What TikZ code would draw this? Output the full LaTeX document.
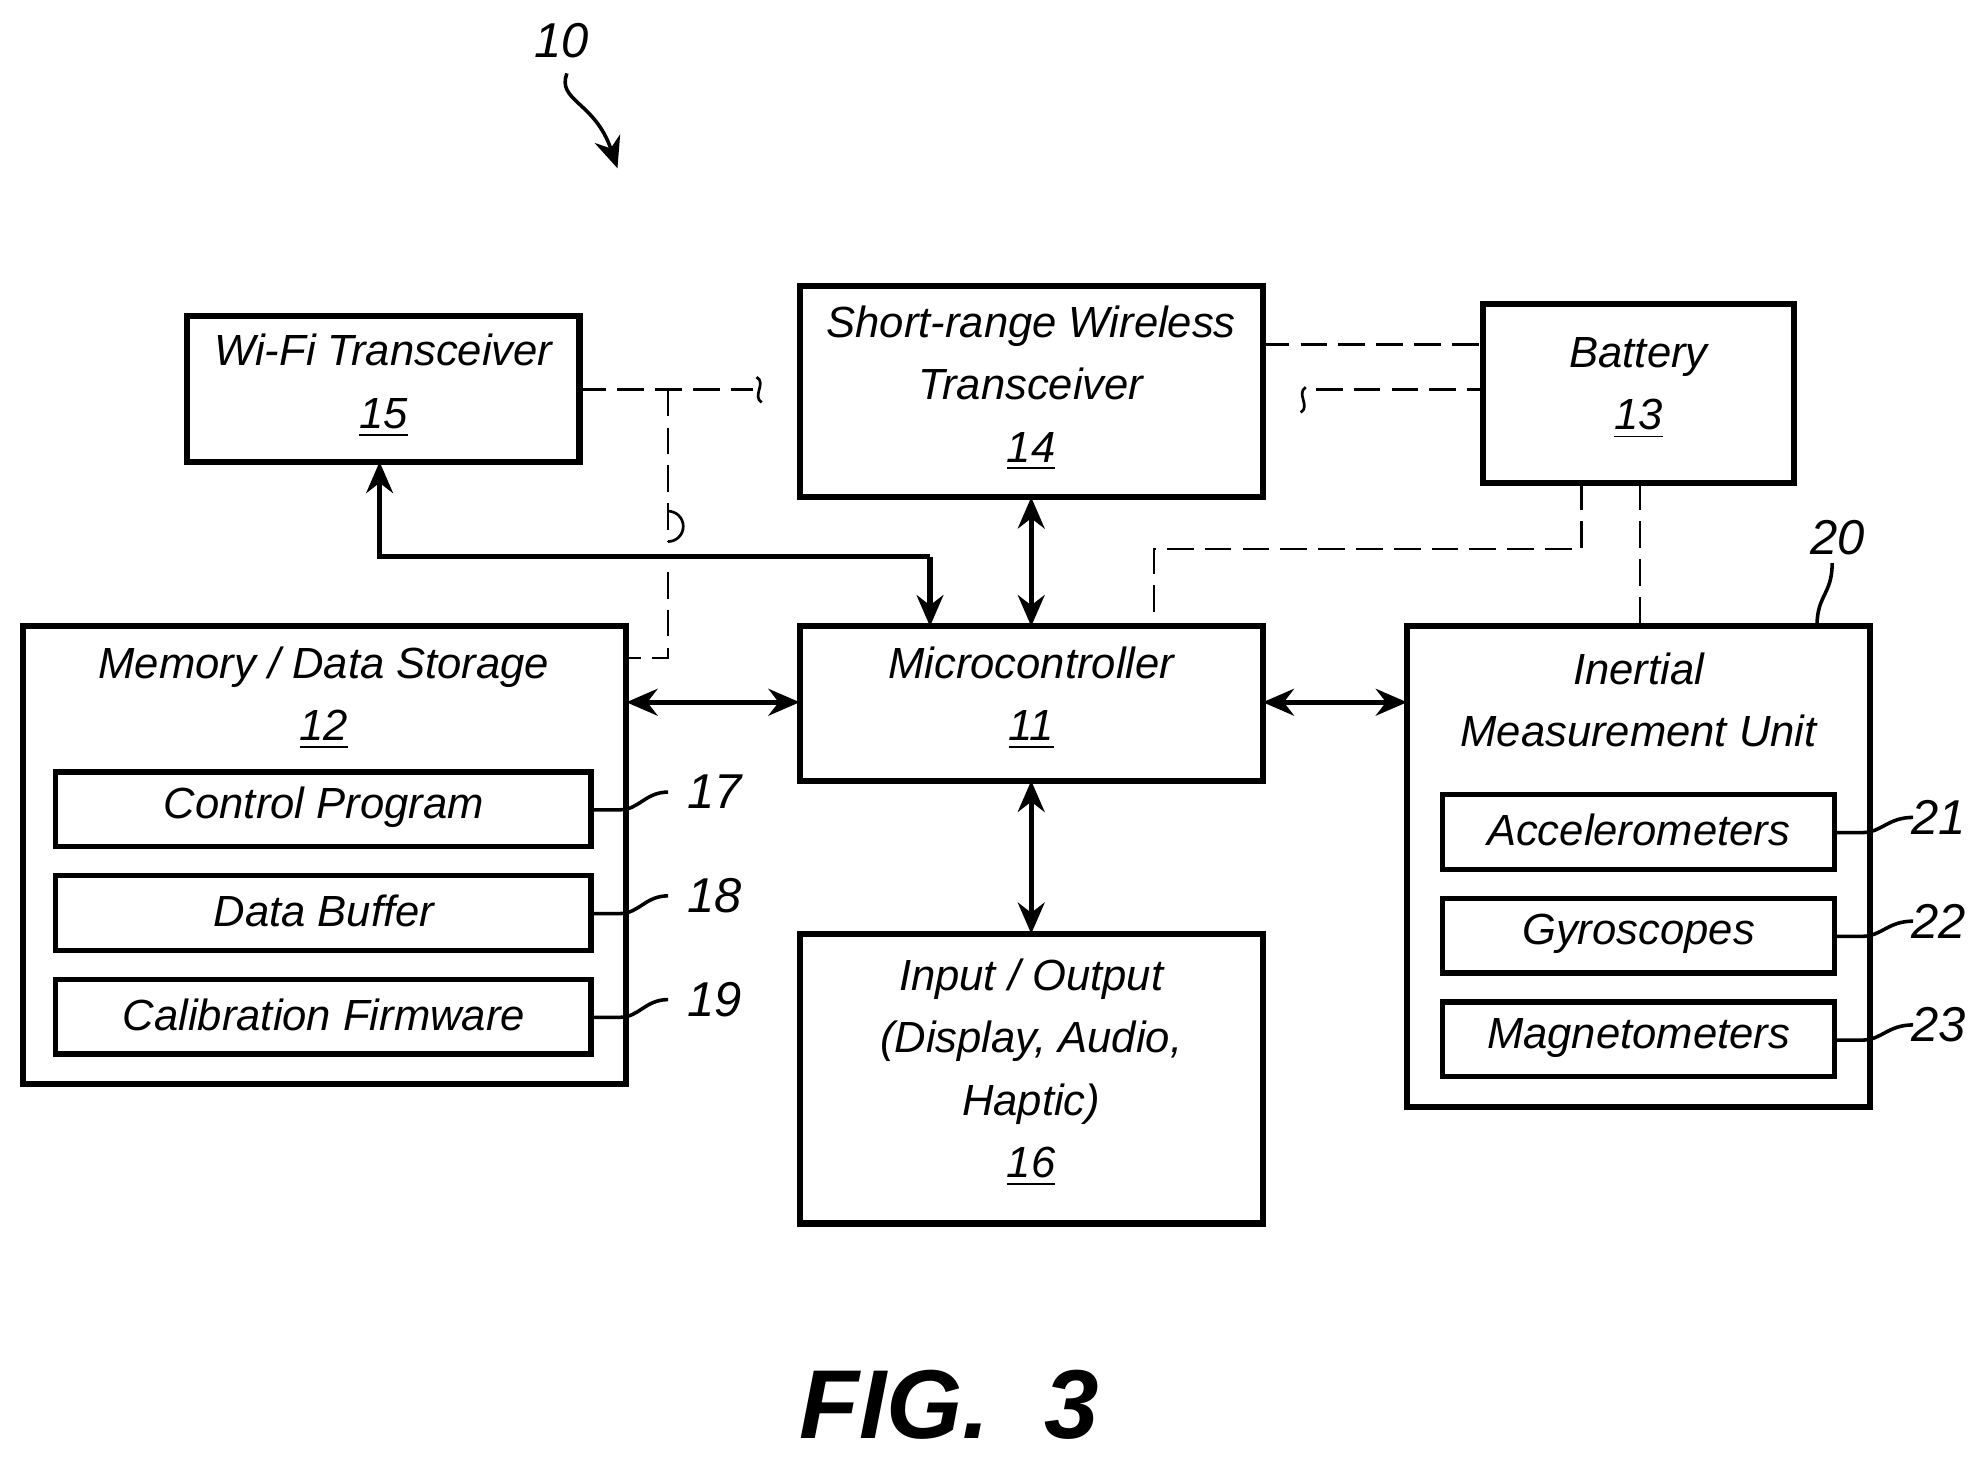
\documentclass[tikz,border=0pt]{standalone}
\usepackage{fontspec}
\setmainfont{Liberation Sans}
\usetikzlibrary{arrows.meta}
\begin{document}
\begin{tikzpicture}[x=0.01cm,y=-0.01cm,
  box/.style={draw,line width=1.4pt},
  sub/.style={draw,line width=1.2pt},
  txt/.style={font=\fontsize{9.8}{14}\selectfont\itshape,align=center,inner sep=0},
  lbl/.style={font=\fontsize{11}{13}\selectfont\itshape,inner sep=0},
  dl/.style={dash pattern=on 6pt off 2.5pt,line width=0.6pt},
  ar/.style={line width=1.2pt,{Stealth[length=7pt,width=6pt]}-{Stealth[length=7pt,width=6pt]}},
  sa/.style={line width=1.2pt,-{Stealth[length=7pt,width=6pt]}}]
\useasboundingbox (0,0) rectangle (1568,1157);
% boxes
\draw[box] (148,250) rectangle (458,365);
\node[txt] (wifi) at (303,305) {Wi-Fi Transceiver\\\underline{15}};
\draw[box] (632,226) rectangle (998,393);
\node[txt] (srw) at (815,307) {Short-range Wireless\\Transceiver\\\underline{14}};
\draw[box] (1172,240) rectangle (1418,382);
\node[txt] (bat) at (1295,307) {Battery\\\underline{13}};
\draw[box] (18,495) rectangle (495,857);
\node[txt] (mem) at (256,552) {Memory / Data Storage\\\underline{12}};
\draw[sub] (44,610) rectangle (467,669); \node[txt] (cp) at (256,638) {Control Program};
\draw[sub] (44,692) rectangle (467,751); \node[txt] (db) at (256,720) {Data Buffer};
\draw[sub] (44,774) rectangle (467,833); \node[txt] (cf) at (256,802) {Calibration Firmware};
\draw[box] (632,495) rectangle (998,617);
\node[txt] (mc) at (815,552) {Microcontroller\\\underline{11}};
\draw[box] (632,738) rectangle (998,967);
\node[txt] (io) at (815,848) {Input / Output\\(Display, Audio,\\Haptic)\\\underline{16}};
\draw[box] (1112,495) rectangle (1478,875);
\node[txt] (imu) at (1295,553) {Inertial\\Measurement Unit};
\draw[sub] (1140,628) rectangle (1450,687); \node[txt] (acc) at (1295,656) {Accelerometers};
\draw[sub] (1140,710) rectangle (1450,769); \node[txt] (gyr) at (1295,738) {Gyroscopes};
\draw[sub] (1140,792) rectangle (1450,851); \node[txt] (mag) at (1295,820) {Magnetometers};
% solid arrows
\draw[sa] (735,440) -- (735,495);
\draw[sa] (735,440) -- (300,440) -- (300,365);
\draw[ar] (815,393) -- (815,495);
\draw[ar] (495,555) -- (632,555);
\draw[ar] (998,555) -- (1112,555);
\draw[ar] (815,617) -- (815,738);
% dashed
\draw[dl] (458,308) -- (595,308);
\draw[line width=0.6pt] (598,298) .. controls (606,303) and (594,313) .. (602,318);
\draw[dl] (528,308) -- (528,428);
\draw[line width=0.6pt] (528,428) arc (90:-90:12);
\draw[dl] (528,452) -- (528,520) -- (495,520);
\draw[dl] (998,272) -- (1172,272);
\draw[line width=0.6pt] (1032,306) .. controls (1024,311) and (1036,321) .. (1028,326);
\draw[dl] (1040,308) -- (1172,308);
\draw[dl] (1250,382) -- (1250,434) -- (912,434) -- (912,495);
\draw[dl] (1296,382) -- (1296,495);
% leaders
\foreach \y/\n in {640/17,722/18,804/19} {
  \draw[line width=0.8pt] (467,\y) -- (490,\y) .. controls (505,\y) and (510,\y-14) .. (528,\y-14);
  \node[lbl] at (565,\y-14) {\n};}
\foreach \y/\n in {658/21,740/22,822/23} {
  \draw[line width=0.8pt] (1450,\y) -- (1472,\y) .. controls (1487,\y) and (1492,\y-12) .. (1512,\y-12);
  \node[lbl] at (1532,\y-12) {\n};}
\node[lbl] (n20) at (1452,425) {20};
\draw[line width=0.8pt] (1436,495) .. controls (1436,470) and (1448,470) .. (1448,445);
\node[lbl] (n10) at (444,32) {10};
\draw[line width=0.8pt,-{Stealth[length=7pt,width=6pt]}] (448,58) .. controls (440,80) and (470,80) .. (488,133);
\node[font=\fontsize{22}{26}\selectfont\bfseries\itshape] at (750,1110) {FIG.\ \ 3};
\end{tikzpicture}
\end{document}
